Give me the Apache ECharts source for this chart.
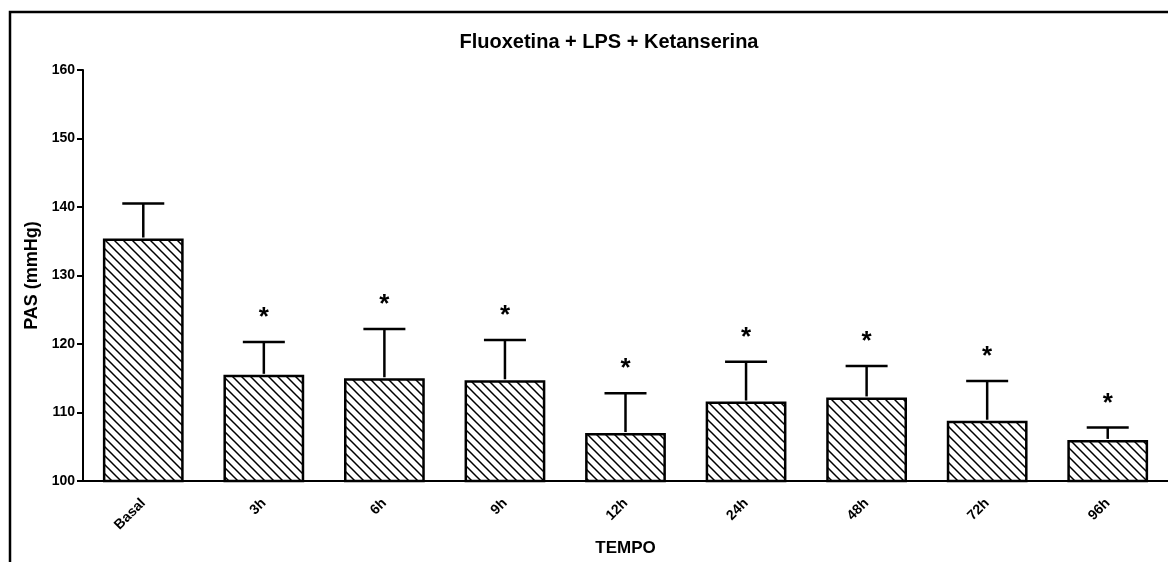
<!DOCTYPE html>
<html>
<head>
<meta charset="utf-8">
<script src="https://cdn.jsdelivr.net/npm/echarts@6/dist/echarts.min.js"></script>
<style>
  html, body { margin: 0; padding: 0; background: #fff; }
  #main { width: 1168px; height: 562px; }
</style>
</head>
<body>
<div id="main"></div>
<script>
// data
var categories = ['Basal', '3h', '6h', '9h', '12h', '24h', '48h', '72h', '96h'];
var means = [135.4, 115.5, 115.0, 114.7, 107.0, 111.6, 112.2, 108.8, 106.0];
var sem = [5.1, 4.8, 7.2, 5.9, 5.8, 5.8, 4.6, 5.8, 1.8];
var signif = [false, true, true, true, true, true, true, true, true];
var yTicks = [100, 110, 120, 130, 140, 150, 160];

// hatch pattern "\\\\"
function hatch() {
    var s = 9;
    var c = document.createElement('canvas');
    c.width = s; c.height = s;
    var ctx = c.getContext('2d');
    ctx.fillStyle = '#fff';
    ctx.fillRect(0, 0, s, s);
    ctx.strokeStyle = '#000';
    ctx.lineWidth = 1.5;
    ctx.beginPath();
    ctx.moveTo(-1, -1); ctx.lineTo(s + 1, s + 1);
    ctx.moveTo(-1, s - 1); ctx.lineTo(1, s + 1);
    ctx.moveTo(s - 1, -1); ctx.lineTo(s + 1, 1);
    ctx.stroke();
    return c;
}

var errData = categories.map(function (c, i) {
    return [i, means[i], means[i] + sem[i], signif[i] ? 1 : 0];
});

var font = '"Liberation Sans", Arial, sans-serif';

var chart = echarts.init(document.getElementById('main'));
var option = {
    animation: false,
    backgroundColor: '#fff',
    title: {
        text: 'Fluoxetina + LPS + Ketanserina',
        left: 604,
        textAlign: 'center',
        top: 27,
        textStyle: { fontFamily: font, fontSize: 20, fontWeight: 'bold', color: '#000' }
    },
    grid: { left: 83, right: -4, top: 70, bottom: 81 },
    xAxis: {
        type: 'category',
        data: categories,
        name: 'TEMPO',
        nameLocation: 'middle',
        nameGap: 58,
        nameTextStyle: { fontFamily: font, fontSize: 17, fontWeight: 'bold', color: '#000' },
        axisLine: { lineStyle: { color: '#000', width: 2 } },
        axisTick: { alignWithLabel: true, length: 6, lineStyle: { color: '#000', width: 2 } },
        axisLabel: { rotate: 45, margin: 20, fontFamily: font, fontSize: 14, fontWeight: 'bold', color: '#000' }
    },
    yAxis: {
        type: 'value',
        min: yTicks[0],
        max: yTicks[yTicks.length - 1],
        interval: 10,
        name: 'PAS (mmHg)',
        nameLocation: 'middle',
        nameGap: 28,
        nameTextStyle: { fontFamily: font, fontSize: 18, fontWeight: 'bold', color: '#000' },
        axisLine: { show: true, lineStyle: { color: '#000', width: 2 } },
        axisTick: { show: true, length: 6, lineStyle: { color: '#000', width: 2 } },
        axisLabel: { margin: 8, fontFamily: font, fontSize: 14, fontWeight: 'bold', color: '#000' },
        splitLine: { show: false }
    },
    series: [
        {
            type: 'bar',
            data: means,
            barWidth: '67%',
            itemStyle: {
                color: { image: hatch(), repeat: 'repeat' },
                borderColor: '#000',
                borderWidth: 2.5
            },
            z: 2
        },
        {
            type: 'custom',
            data: errData,
            z: 3,
            renderItem: function (params, api) {
                var i = api.value(0);
                var base = api.coord([i, api.value(1)]);
                var top = api.coord([i, api.value(2)]);
                var half = 21;
                var kids = [
                    { type: 'line', shape: { x1: base[0], y1: base[1] - 1, x2: top[0], y2: top[1] },
                      style: { stroke: '#000', lineWidth: 2.5 } },
                    { type: 'line', shape: { x1: top[0] - half, y1: top[1], x2: top[0] + half, y2: top[1] },
                      style: { stroke: '#000', lineWidth: 2.5 } }
                ];
                if (api.value(3)) {
                    kids.push({ type: 'text', x: top[0], y: top[1] - 24,
                        style: { text: '*', fill: '#000', font: 'bold 26px ' + font,
                                 align: 'center', verticalAlign: 'middle' } });
                }
                return { type: 'group', children: kids };
            }
        }
    ],
    graphic: [
        { type: 'polyline', shape: { points: [[10, 562], [10, 12], [1168, 12]] },
          style: { stroke: '#000', lineWidth: 2.5, fill: null } }
    ]
};
chart.setOption(option);
</script>
</body>
</html>
